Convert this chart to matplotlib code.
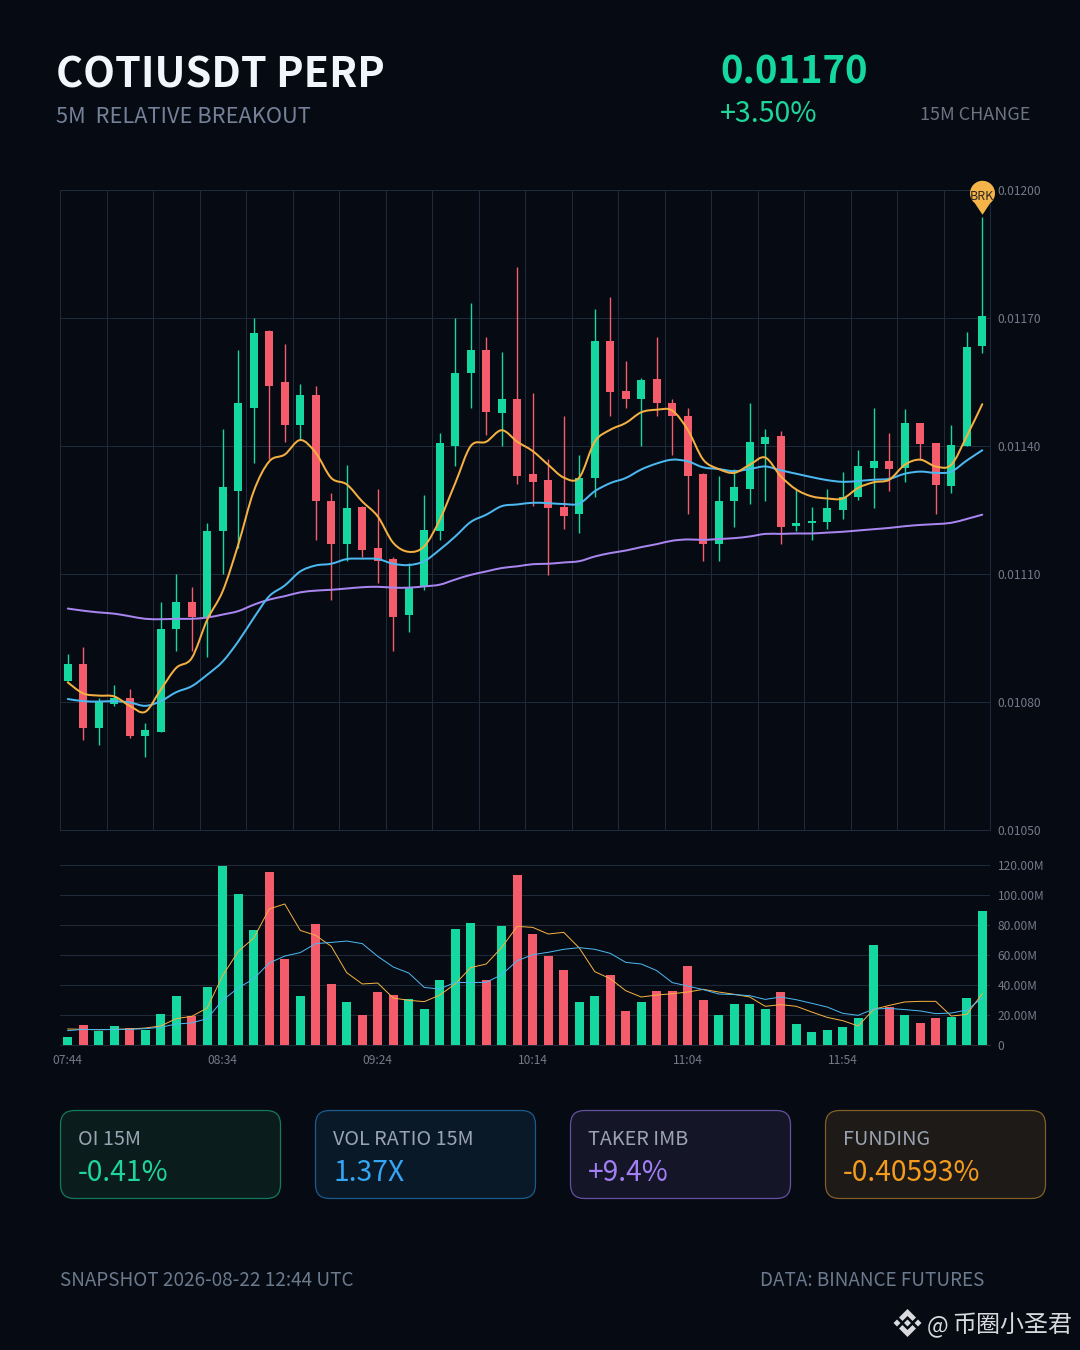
import numpy as np
import matplotlib
matplotlib.use("Agg")
import matplotlib.pyplot as plt
from matplotlib.path import Path
from matplotlib.patches import PathPatch, FancyBboxPatch, Polygon
from matplotlib.ticker import FuncFormatter

FONT = ['Noto Sans CJK SC', 'DejaVu Sans']
plt.rcParams['font.family'] = FONT

# ---- data (prices in units of 0.00001) ----
times = ["07:44", "08:34", "09:24", "10:14", "11:04", "11:54"]
opens = [1085,1089,1074,1079.5,1081,1072,1073,1097,1103.4,1100,1120,1129.5,1149,1167,1155,1145,1152,1127,1117,1125.6,
         1116,1113.5,1100.4,1107,1120,1140,1157,1162.5,1147.7,1151,1133.5,1132,1125.6,1124,1132.6,1164.7,1153,1151,1155.6,1150,
         1147,1133.4,1117,1127,1130,1140.5,1142.3,1121.3,1122,1122.3,1125,1128,1134.8,1136.4,1134.8,1145.5,1140.6,1130.7,1140,1163.4]
closes = [1089,1074,1080,1081,1072,1073.5,1097,1103.4,1100,1120,1130.5,1150,1166.6,1154,1145,1152,1127,1117,1125.5,1115.7,
          1113,1100,1107,1120.4,1140.7,1157,1162.4,1148,1151,1133,1131.5,1125.4,1123.7,1132.5,1164.7,1152.7,1151,1155.5,1150,1147,
          1133,1117,1127,1130.5,1141,1142,1121,1122,1122.5,1125.5,1128,1135.4,1136.4,1134.7,1145.5,1140.4,1130.8,1140.2,1163.3,1170.5]
highs = [1091.3,1093,1081,1084,1083,1075,1103.4,1110,1107,1122,1144,1162.5,1170,1167.3,1164,1154.5,1154,1129,1135.5,1126,
         1130,1114,1112.6,1128.4,1143,1170,1173.5,1165.5,1162,1182,1152.4,1137,1147,1138,1172,1175,1160,1156,1165.5,1151,
         1149,1133.6,1133,1134.6,1150,1144,1143.6,1130,1125.7,1130,1134,1139,1148.8,1143,1148.7,1145.5,1140.8,1145,1166.8,1193.6]
lows = [1085,1071,1070,1079,1071.5,1067,1073,1092,1092,1090.5,1110,1116,1136,1137,1141,1141.5,1118,1104,1113,1114,
        1108,1092,1096.5,1106.3,1118,1135.4,1149,1142.6,1140,1131,1126,1109.7,1120.6,1119.5,1128,1147,1149,1140,1147,1138,
        1124,1113,1113,1121,1126.5,1127,1117,1120,1118,1120.6,1123,1127.3,1125.4,1129.4,1131.5,1136.8,1124,1129,1140,1161.8]
ma_fast = [1084.6,1082,1081.5,1081.3,1079.1,1077.7,1082.9,1088,1090.3,1099.3,1106,1116.9,1129.4,1136.4,1138,1141.4,1138.4,1132.5,1131,1127,
           1123.5,1117.3,1115.2,1116.5,1122.7,1131.3,1140,1141,1143.7,1141,1138.8,1135.6,1132.6,1132.6,1141,1143.8,1145.4,1147.9,1148.5,1148.3,
           1143.8,1136.8,1134.6,1133.7,1135.6,1137.3,1132.9,1129.8,1128.2,1127.7,1127.7,1130.2,1131.5,1132.1,1135.6,1136.8,1135.2,1135.6,1142.3,1149.8]
ma_mid = [1080.7,1080.2,1080.1,1080.2,1079.9,1079.1,1080.2,1082.3,1083.7,1086.4,1089.5,1094.2,1099.7,1104.8,1107.3,1110.6,1112,1112.4,1113.5,1113.6,
          1113.5,1112.4,1112.1,1113,1115.7,1118.8,1122.2,1123.9,1125.9,1126.3,1126.7,1126.6,1126.4,1126.5,1129.4,1131.3,1132.5,1134.5,1135.9,1136.8,
          1136.4,1135,1134.6,1134.1,1134.6,1135.2,1134.3,1133.5,1132.7,1132,1131.6,1131.8,1132.1,1132.3,1133.5,1134,1133.7,1134,1136.6,1139]
ma_slow = [1101.9,1101.4,1101,1100.7,1100.1,1099.5,1099.4,1099.5,1099.5,1099.8,1100.5,1101.3,1102.8,1104,1104.8,1105.7,1106.1,1106.3,1106.6,1106.9,
           1107,1106.8,1106.8,1107.1,1107.5,1108.7,1109.8,1110.6,1111.4,1111.8,1112.3,1112.4,1112.7,1113,1114.1,1114.9,1115.5,1116.3,1117,1117.8,
           1118.1,1118,1118.2,1118.4,1118.8,1119.4,1119.4,1119.5,1119.5,1119.7,1119.9,1120.2,1120.5,1120.8,1121.2,1121.5,1121.7,1122,1122.9,1123.9]
volumes = [5.6,13.3,9.1,12.7,11.3,9.8,20.9,32.9,19.3,38.9,119.6,100.7,76.4,115.3,57.3,32.7,80.7,40.9,28.7,20,
           35.6,33.6,30.9,24,43.6,77.1,81.3,43.3,79.6,113.3,73.8,59.3,49.8,28.9,32.9,46.7,22.9,28.9,36,36.2,
           52.9,30.2,19.8,27.3,27.1,24,35.6,14,8.9,9.8,12,18.2,66.9,25.3,19.8,14.7,18,18.4,31.6,89.3]
vol_fast = [10.7,10.4,10.2,10.4,10.7,11.3,12.7,17.6,19.1,24.7,46.4,62.4,71.3,90.7,94,76.4,73.1,65.8,48.2,40.7,
            41.3,31.3,29.8,28.9,33.3,40.7,51.6,54,65.1,79.1,78.4,74,75.1,64.7,48.9,44.2,36.2,32,33.3,34.2,
            35.3,37.1,35.3,33.8,32,25.8,26.9,25.8,22,18.4,16.2,12.7,23.8,26.4,28.7,29.1,29.1,19.3,20.4,34.2]
vol_slow = [9.6,10.4,10.2,10.4,10.4,10.9,11.8,14,14.7,17.6,30,38,44.2,54.7,59.3,61.6,67.6,68.4,69.3,67.6,
            59.1,52,48,38.4,37.3,41.8,41.6,41.8,46.9,56.2,60.2,61.8,63.8,64.9,63.8,61.1,55.1,54,49.6,41.6,
            39.3,36.9,34,33.6,32.9,30.4,32,30.2,27.8,25.3,21.1,19.8,24,24.4,23.6,22.7,20.9,21.3,23.3,31.3]
cards = [("OI 15M", "-0.41%"), ("VOL RATIO 15M", "1.37X"), ("TAKER IMB", "+9.4%"), ("FUNDING", "-0.40593%")]

UNIT = 1e-5
BG = "#060a12"; GRID = "#1f2b3a"; UP = "#15d8a0"; DOWN = "#f55c6b"
ORANGE = "#f5b042"; BLUE = "#4cb8f0"; PURPLE = "#a985f0"; TICK = "#737b8a"

W, H = 1080, 1350
fig = plt.figure(figsize=(W/100, H/100), dpi=100, facecolor=BG)
px = lambda p: p*0.72

def rect(x0, y0, x1, y1):
    return [x0/W, 1-y1/H, (x1-x0)/W, (y1-y0)/H]

# overlay for texts and cards, in pixels
bg = fig.add_axes([0, 0, 1, 1], zorder=0)
bg.set_xlim(0, W); bg.set_ylim(H, 0); bg.axis("off")

def label(x, y, s, size, color, weight="normal", ha="left"):
    bg.text(x, y, s, fontsize=px(size), color=color, fontweight=weight, ha=ha, va="baseline", family=FONT)

label(56, 87, "COTIUSDT PERP", 41.4, "#f2f6fc", "bold")
label(56.5, 122.7, "5M  RELATIVE BREAKOUT", 21.8, "#748198")
label(720, 83.5, "0.01170", 38.2, UP, "bold")
label(720, 122, "+3.50%", 28.6, "#1fd69a")
label(1030, 120, "15M CHANGE", 18, "#6b7483", ha="right")
label(60, 1286, "SNAPSHOT 2026-08-22 12:44 UTC", 18.9, "#6c7a8e")
label(760, 1286, "DATA: BINANCE FUTURES", 18.9, "#6c7a8e")
label(927, 1332, "@", 23, "#d8dadd")
label(952, 1332, "币圈小圣君", 24, "#d8dadd")

# watermark logo
cx, cy = 907.5, 1323
logo = [[(-14,0),(-10.5,-3.5),(-7,0),(-10.5,3.5)], [(14,0),(10.5,-3.5),(7,0),(10.5,3.5)],
        [(0,-3.5),(3.5,0),(0,3.5),(-3.5,0)],
        [(0,-14),(8.5,-5.5),(5,-2),(0,-7),(-5,-2),(-8.5,-5.5)],
        [(0,14),(8.5,5.5),(5,2),(0,7),(-5,2),(-8.5,5.5)]]
for poly in logo:
    bg.add_patch(Polygon([(cx+a, cy+b) for a, b in poly], closed=True, fc="#d8dadd", ec="none"))

# cards
card_x = [60, 315, 570, 825]
card_fill = ["#0b1c1c", "#0a1928", "#151528", "#1d1a17"]
card_edge = ["#137a5c", "#1c5c8c", "#63509f", "#835f24"]
card_val = ["#1fd69a", "#33a6f5", "#a27ff5", "#f59c1e"]
for x0, (name, val), fc, ec, vc in zip(card_x, cards, card_fill, card_edge, card_val):
    bg.add_patch(FancyBboxPatch((x0+14.5, 1110.5+14), 221-29, 88-28, boxstyle="round,pad=14,rounding_size=14",
                                fc=fc, ec=ec, lw=0.9))
    label(x0+18, 1145, name, 19.8, "#9aa3b2")
    label(x0+18, 1181, val, 28.2, vc)

# main price panel
ax = fig.add_axes(rect(60, 190, 990, 830), zorder=1)
ax.set_facecolor("none")
idx = np.arange(len(opens))
o, c, h, l = [np.array(a)*UNIT for a in (opens, closes, highs, lows)]
colors = [UP if b >= a else DOWN for a, b in zip(o, c)]
ax.vlines(idx, l, h, colors=colors, lw=1.0, zorder=3)
ax.bar(idx, np.abs(c-o), bottom=np.minimum(o, c), width=0.516, color=colors, lw=0, zorder=3)

def smooth(xs, ys, color, lw):
    pts = np.column_stack([xs, ys])
    verts = [pts[0]]; codes = [Path.MOVETO]
    n = len(pts)
    for i in range(n-1):
        p0 = pts[max(i-1, 0)]; p1 = pts[i]; p2 = pts[i+1]; p3 = pts[min(i+2, n-1)]
        verts += [p1+(p2-p0)/6, p2-(p3-p1)/6, p2]
        codes += [Path.CURVE4]*3
    ax.add_patch(PathPatch(Path(np.array(verts), codes), fc="none", ec=color, lw=px(lw), zorder=4, capstyle="round"))

smooth(idx, np.array(ma_slow)*UNIT, PURPLE, 2.0)
smooth(idx, np.array(ma_mid)*UNIT, BLUE, 2.0)
smooth(idx, np.array(ma_fast)*UNIT, ORANGE, 2.0)

ax.set_xlim(-0.5, 59.5); ax.set_ylim(0.0105, 0.0120)
ax.set_xticks(np.arange(-0.5, 60, 3)); ax.tick_params(axis="x", length=0, labelbottom=False)
ax.set_yticks(np.arange(0, 6)*0.0003+0.0105)
ax.yaxis.tick_right()
ax.yaxis.set_major_formatter(FuncFormatter(lambda v, p: f"{v:.5f}"))
ax.tick_params(axis="y", length=0, pad=px(7.5), labelsize=px(12), labelcolor=TICK)
ax.grid(True, color=GRID, lw=px(1.0), zorder=1)
ax.set_axisbelow(True)
for s in ax.spines.values():
    s.set_color(GRID); s.set_linewidth(px(1.0))

# breakout pin: tip just above the last high
th = np.radians(np.linspace(-52, 232, 60))
R = 12.5; C = 24.2
pin_v = [(R*np.cos(t), C+R*np.sin(t)) for t in th] + [(0, 2.7)]
pin = Path(pin_v + [pin_v[0]], [Path.MOVETO]+[Path.LINETO]*(len(pin_v)-1)+[Path.CLOSEPOLY])
scale = np.abs(np.array(pin_v)).max()
ax.plot([59], [h[59]], marker=pin, ms=px(2*scale), mfc="#f5b44a", mec="none", ls="none", clip_on=False, zorder=6)
ax.annotate("BRK", (59, h[59]), xytext=(0, px(21)), textcoords="offset points", ha="center", va="center",
            fontsize=px(12.5), color="#2c2820", zorder=7, annotation_clip=False)

# volume panel
av = fig.add_axes(rect(60, 865, 990, 1045), zorder=1)
av.set_facecolor("none")
vols = np.array(volumes)
av.bar(idx, vols, width=0.56, color=colors, lw=0, zorder=3)
av.plot(idx, vol_fast, color=ORANGE, lw=px(1.0), zorder=4)
av.plot(idx, vol_slow, color=BLUE, lw=px(1.0), zorder=4)
av.set_xlim(-0.5, 59.5); av.set_ylim(0, 120)
av.set_xticks(np.arange(0, 60, 10)); av.set_xticklabels(times)
av.set_yticks(np.arange(0, 121, 20))
av.yaxis.tick_right()
av.yaxis.set_major_formatter(FuncFormatter(lambda v, p: "0" if v == 0 else f"{v:.2f}M"))
av.tick_params(axis="both", length=0, labelsize=px(12), labelcolor=TICK)
av.tick_params(axis="y", pad=px(7.5)); av.tick_params(axis="x", pad=px(9.5))
av.grid(True, axis="y", color=GRID, lw=px(1.0), zorder=1)
av.set_axisbelow(True)
for name, s in av.spines.items():
    s.set_visible(name == "bottom"); s.set_color(GRID); s.set_linewidth(px(1.0))

fig.savefig("out.png", dpi=100, facecolor=BG)
